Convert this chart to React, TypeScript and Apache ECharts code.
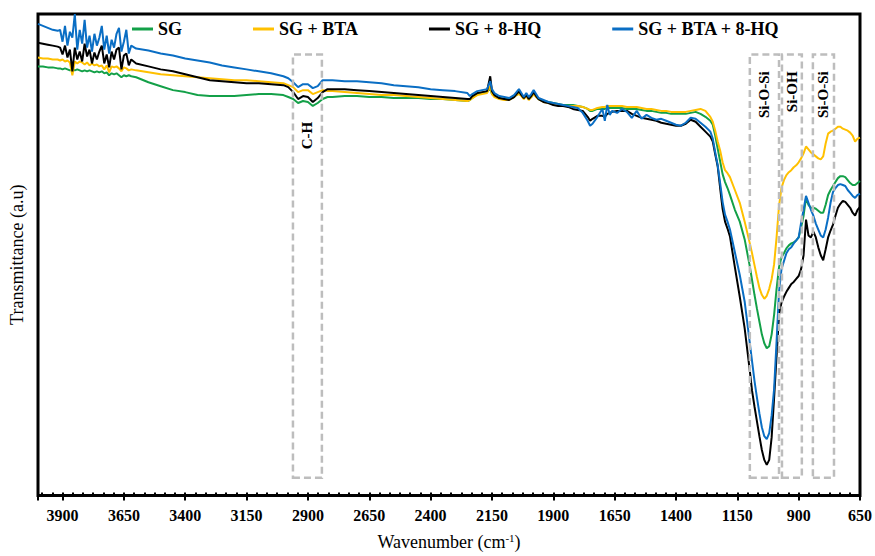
import { useEffect, useRef } from "react";
import * as echarts from "echarts";

// FTIR spectra of the sol-gel coatings, transmittance in arbitrary units.
const wavenumbers = [
  4000, 3980, 3960, 3940, 3920,
  3910, 3900, 3890, 3880, 3870, 3860, 3850, 3840, 3830, 3820, 3810,
  3800, 3790, 3780, 3770, 3760, 3750, 3740, 3730, 3720, 3710,
  3700, 3690, 3680, 3670, 3660, 3650, 3640, 3630, 3620,
  3600, 3550, 3500, 3450, 3400, 3350, 3300, 3250, 3200, 3150, 3100, 3050, 3000,
  2980, 2960, 2940, 2920, 2900, 2880, 2860, 2840, 2820, 2800,
  2750, 2700, 2650, 2600, 2550, 2500, 2450, 2400, 2350, 2300, 2250,
  2240, 2230, 2210, 2190, 2170, 2157, 2150, 2140, 2120, 2100, 2080,
  2060, 2050, 2040, 2030, 2020, 2010, 2000, 1990, 1980, 1970, 1960,
  1940, 1920, 1900, 1880, 1860, 1840, 1820, 1800, 1780, 1760,
  1750, 1740, 1720, 1700, 1690, 1680, 1670, 1660,
  1640, 1620, 1600, 1580, 1560, 1540, 1520, 1500, 1480, 1460,
  1440, 1420, 1400, 1380, 1360, 1340, 1320, 1300, 1280, 1260,
  1250, 1240, 1230, 1220, 1210, 1200, 1190, 1180,
  1160, 1140, 1120,
  1100, 1090, 1080, 1070, 1060, 1050, 1040, 1030, 1020, 1010,
  1000, 990, 980, 970, 960, 950, 940, 930, 920, 910,
  900, 890, 880, 870, 860, 850, 840, 830, 820, 810,
  800, 790, 780, 770, 760, 750, 740, 730, 720, 710,
  700, 690, 680, 670, 660, 650,
];

const sg = [
  434, 434, 433, 433, 432,
  432, 431, 432, 431, 430, 431, 430, 431, 430, 429, 430,
  429, 430, 429, 428, 429, 428, 429, 427, 428, 425,
  427, 426, 427, 425, 423, 425, 424, 425, 424,
  423, 418, 414, 410, 408, 405, 404, 404, 404, 405, 406, 406, 405,
  403, 401, 397, 399, 398, 394, 397, 401, 403, 403,
  404, 404, 403, 403, 402, 402, 402, 401, 401, 400, 399,
  400, 402, 406, 407, 408, 412, 406, 404, 402, 401, 401,
  403, 405, 407, 405, 402, 404, 401, 403, 406, 404, 401,
  399, 398, 397, 396, 395, 395, 395, 394, 393, 391,
  389, 389, 391, 391, 391, 392, 392, 392,
  392, 392, 391, 391, 391, 390, 389, 389, 388, 387,
  387, 386, 386, 386, 386, 387, 388, 386, 383, 379,
  375, 364, 351, 338, 325, 317, 311, 304,
  289, 277, 259,
  233, 218, 203, 189, 176, 163, 154, 149, 151, 163,
  183, 209, 231, 241, 245, 250, 253, 255, 256, 258,
  261, 271, 283, 301, 294, 291, 291, 290, 288, 286,
  286, 294, 304, 309, 313, 317, 321, 323, 323, 322,
  319, 316, 314, 314, 316, 318,
];

const sgBta = [
  443, 442, 442, 441, 441,
  440, 441, 439, 440, 438, 425, 439, 437, 439, 438, 436,
  438, 435, 437, 435, 436, 434, 435, 431, 435, 428,
  434, 433, 434, 432, 429, 433, 432, 430, 431,
  430, 428, 426, 425, 424, 423, 422, 421, 420, 420, 419, 418, 417,
  415, 413, 408, 410, 410, 406, 408, 410, 409, 409,
  408, 407, 406, 405, 405, 404, 403, 402, 401, 400, 399,
  400, 402, 405, 406, 407, 414, 406, 403, 401, 400, 400,
  403, 405, 406, 404, 401, 404, 400, 403, 406, 403, 401,
  398, 397, 396, 395, 394, 394, 394, 394, 393, 391,
  390, 390, 392, 393, 393, 394, 394, 394,
  394, 394, 393, 393, 393, 392, 391, 391, 390, 389,
  389, 388, 388, 388, 388, 389, 390, 391, 389, 383,
  378, 369, 358, 349, 337, 329, 326, 322,
  309, 296, 277,
  256, 245, 233, 221, 210, 203, 199, 202, 209, 219,
  234, 261, 293, 311, 319, 324, 327, 329, 332, 334,
  337, 341, 346, 353, 350, 347, 345, 343, 341, 340,
  343, 356, 366, 368, 369, 371, 373, 373, 371, 370,
  369, 367, 364, 358, 361, 362,
];

const sgHq = [
  458, 457, 456, 455, 454,
  453, 446, 455, 443, 451, 429, 453, 441, 449, 439, 457,
  444, 451, 437, 448, 441, 449, 455, 437, 446, 433,
  449, 441, 451, 453, 431, 445, 447, 435, 441,
  437, 434, 431, 429, 426, 423, 420, 419, 418, 417, 417, 416, 415,
  413, 408, 401, 404, 403, 398, 402, 408, 411, 411,
  411, 410, 409, 408, 407, 406, 405, 404, 403, 402, 401,
  401, 404, 407, 408, 409, 424, 409, 405, 402, 401, 400,
  403, 406, 409, 405, 402, 405, 401, 404, 408, 404, 401,
  398, 397, 395, 394, 394, 393, 391, 390, 389, 383,
  379, 381, 384, 384, 383, 386, 387, 388,
  389, 389, 389, 386, 384, 382, 381, 380, 379, 377,
  376, 375, 374, 374, 376, 380, 378, 373, 368, 363,
  358, 345, 333, 311, 290, 277, 270, 262,
  231, 201, 169,
  128, 106, 90, 75, 60, 46, 36, 31, 36, 59,
  99, 141, 183, 195, 201, 206, 210, 214, 216, 219,
  222, 229, 243, 279, 263, 261, 267, 261, 251, 243,
  238, 249, 261, 268, 274, 283, 291, 295, 298, 297,
  294, 291, 286, 283, 289, 292,
];

const sgBtaHq = [
  477, 475, 473, 471, 470,
  471, 459, 475, 455, 469, 463, 487, 451, 471, 457, 481,
  453, 465, 449, 467, 455, 463, 475, 451, 465, 447,
  461, 453, 467, 473, 449, 459, 471, 447, 455,
  452, 450, 447, 445, 442, 440, 438, 435, 433, 431, 429, 427, 424,
  422, 418, 413, 416, 416, 412, 414, 420, 420, 420,
  419, 419, 418, 417, 415, 414, 413, 411, 410, 409, 407,
  404, 406, 409, 410, 411, 419, 411, 407, 404, 403, 402,
  405, 408, 411, 407, 403, 407, 403, 406, 410, 406, 402,
  400, 398, 397, 396, 395, 394, 393, 392, 387, 379,
  374, 376, 383, 391, 379, 395, 385, 389,
  387, 391, 388, 382, 389, 381, 385, 382, 380, 381,
  379, 377, 375, 374, 377, 382, 381, 377, 373, 368,
  361, 347, 334, 316, 297, 284, 277, 269,
  246, 223, 196,
  156, 136, 116, 99, 83, 69, 60, 57, 63, 81,
  108, 156, 206, 229, 237, 245, 249, 251, 255, 258,
  261, 276, 289, 303, 296, 289, 283, 275, 269, 263,
  261, 269, 281, 296, 307, 311, 314, 315, 314, 313,
  309, 306, 303, 301, 304, 305,
];

const seriesNames = ["SG", "SG + BTA", "SG + 8-HQ", "SG + BTA + 8-HQ"];
const seriesColors = ["#13a048", "#ffc000", "#000000", "#0a6ec4"];
const seriesValues = [sg, sgBta, sgHq, sgBtaHq];

const xTicks = [3900, 3650, 3400, 3150, 2900, 2650, 2400, 2150, 1900, 1650, 1400, 1150, 900, 650];

// Assigned absorption bands: wavenumber range and label
const bandRanges = [
  [2961, 2843],
  [1099, 980],
  [968, 887],
  [842, 756],
];
const bandLabels = ["C-H", "Si-O-Si", "Si-OH", "Si-O-Si"];
const bandBox = [18, 446];

const SERIF = "'Liberation Serif', 'Times New Roman', serif";
const X_MIN = 650;
const X_MAX = 4000;

export default function App() {
  const ref = useRef<HTMLDivElement>(null);

  useEffect(() => {
    if (!ref.current) return;
    const chart = echarts.init(ref.current, null, { renderer: "svg" });
    const span = X_MAX - X_MIN;

    const series: any[] = seriesNames.map((name, i) => ({
      name,
      type: "line",
      xAxisIndex: 0,
      yAxisIndex: 0,
      showSymbol: false,
      symbol: "none",
      smooth: false,
      data: wavenumbers.map((w, k) => [w, seriesValues[i][k]]),
      lineStyle: { color: seriesColors[i], width: 2 },
      itemStyle: { color: seriesColors[i] },
      z: 2 + i,
    }));

    series[3].markArea = {
      silent: true,
      z: 20,
      itemStyle: {
        color: "rgba(0,0,0,0)",
        borderColor: "#bdbdbd",
        borderWidth: 2.5,
        borderType: [7, 4],
      },
      label: { show: false },
      data: bandRanges.map(([a, b]) => [
        { xAxis: a, yAxis: bandBox[0] },
        { xAxis: b, yAxis: bandBox[1] },
      ]),
    };

    const option: any = {
      animation: false,
      backgroundColor: "#ffffff",
      grid: {
        left: 36,
        right: 15,
        top: 14,
        bottom: 55,
        show: true,
        borderColor: "#000",
        borderWidth: 3,
        backgroundColor: "transparent",
      },
      legend: {
        left: 127,
        top: 15,
        icon: "rect",
        itemWidth: 21,
        itemHeight: 3,
        itemGap: 71,
        data: seriesNames,
        textStyle: { fontFamily: SERIF, fontWeight: "bold", fontSize: 18, color: "#000" },
      },
      xAxis: [
        {
          type: "value",
          min: X_MIN,
          max: X_MAX,
          inverse: true,
          show: false,
        },
        {
          // major ticks and labels (offset from 650 cm-1)
          type: "value",
          min: 0,
          max: span,
          interval: 250,
          inverse: true,
          position: "bottom",
          axisLine: { show: false },
          axisTick: { show: true, inside: false, length: 5, lineStyle: { color: "#000", width: 2 } },
          splitLine: { show: false },
          axisLabel: {
            margin: 12,
            fontFamily: SERIF,
            fontWeight: "bold",
            fontSize: 16,
            color: "#000",
            formatter: (v: number) => (xTicks.includes(Math.round(v) + X_MIN) ? String(Math.round(v) + X_MIN) : ""),
          },
          name: "{n|Wavenumber (cm}{s|-1}{n|)}",
          nameLocation: "middle",
          nameGap: 37,
          nameTextStyle: {
            rich: {
              n: { fontFamily: SERIF, fontSize: 18, color: "#000" },
              s: { fontFamily: SERIF, fontSize: 11, color: "#000", padding: [0, 0, 8, 0] },
            },
          },
        },
        {
          // minor ticks
          type: "value",
          min: 0,
          max: span,
          interval: 250 / 6,
          inverse: true,
          position: "bottom",
          axisLine: { show: false },
          axisTick: { show: true, inside: true, length: 3, lineStyle: { color: "#000", width: 2 } },
          axisLabel: { show: false },
          splitLine: { show: false },
        },
      ],
      yAxis: {
        type: "value",
        min: 0,
        max: 487,
        axisLine: { show: false },
        axisTick: { show: false },
        axisLabel: { show: false },
        splitLine: { show: false },
        name: "Transmittance (a.u)",
        nameLocation: "middle",
        nameGap: 12,
        nameTextStyle: { fontFamily: SERIF, fontSize: 18, color: "#000" },
      },
      series,
    };

    chart.setOption(option);

    const toPx = (w: number, v: number) =>
      chart.convertToPixel({ seriesIndex: 0 }, [w, v]) as number[];

    const graphic = bandLabels.map((text, i) => {
      const center = (bandRanges[i][0] + bandRanges[i][1]) / 2;
      const isTop = i > 0;
      const p = toPx(center, isTop ? 429 : 364);
      return {
        type: "text",
        x: p[0],
        y: p[1],
        rotation: Math.PI / 2,
        z: 30,
        style: {
          text,
          font: `bold 15px ${SERIF}`,
          fill: "#000",
          align: isTop ? "right" : "center",
          verticalAlign: "middle",
        },
      };
    });
    chart.setOption({ graphic });

    return () => chart.dispose();
  }, []);

  return (
    <div
      ref={ref}
      style={{ position: "fixed", left: 0, top: 0, width: 875, height: 556, background: "#fff" }}
    />
  );
}
